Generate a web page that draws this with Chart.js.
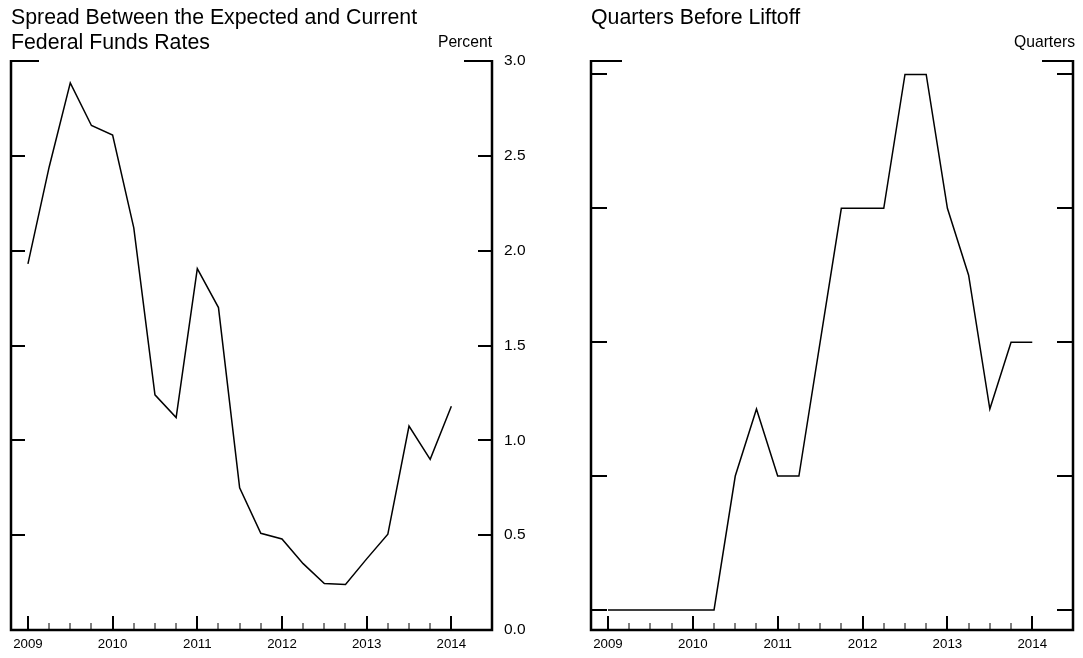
<!DOCTYPE html>
<html>
<head>
<meta charset="utf-8">
<script src="https://cdn.jsdelivr.net/npm/chart.js@4.4.1/dist/chart.umd.min.js"></script>
<style>
  html, body { margin: 0; padding: 0; background: #fff; }
  #wrap { position: relative; width: 1083px; height: 658px; }
  canvas { position: absolute; top: 0; }
  #spread { left: 0; }
  #liftoff { left: 540px; }
</style>
</head>
<body>
<div id="wrap">
  <canvas id="spread" width="540" height="658"></canvas>
  <canvas id="liftoff" width="543" height="658"></canvas>
</div>
<script>
// quarterly observations, 2009:Q1 - 2014:Q1
const dates = [2009, 2009.25, 2009.5, 2009.75, 2010, 2010.25, 2010.5, 2010.75,
               2011, 2011.25, 2011.5, 2011.75, 2012, 2012.25, 2012.5, 2012.75,
               2013, 2013.25, 2013.5, 2013.75, 2014];
// spread between expected and current fed funds rate, percent
const spread = [1.93, 2.44, 2.885, 2.66, 2.61, 2.12, 1.24, 1.12,
                1.905, 1.70, 0.75, 0.51, 0.48, 0.35, 0.245, 0.24,
                0.375, 0.505, 1.075, 0.90, 1.18];
// quarters before liftoff
const liftoff = [2, 2, 2, 2, 2, 2, 4, 5,
                 4, 4, 6, 8, 8, 8, 10, 10,
                 8, 7, 5, 6, 6];

const yearTicks = [2009, 2010, 2011, 2012, 2013, 2014];
const percentTicks = [0, 0.5, 1, 1.5, 2, 2.5, 3];
const quarterTicks = [2, 4, 6, 8, 10];

const FONT = "'Liberation Sans', Arial, sans-serif";
Chart.defaults.font.family = FONT;
Chart.defaults.color = '#000';

// quarter tick marks between the first and last year
const xMarks = [];
for (let q = yearTicks[0]; q <= yearTicks[yearTicks.length - 1]; q += 0.25) xMarks.push(q);

// frame with inward ticks, like the original Fed charts
const frame = {
  id: 'frame',
  afterDatasetsDraw(chart, args, opts) {
    const { ctx, chartArea: a } = chart;
    const x = chart.scales.x, y = chart.scales.y;
    ctx.save();
    ctx.strokeStyle = '#000';

    ctx.lineWidth = 2;
    ctx.beginPath();
    y.ticks.forEach(t => {
      const py = Math.round(y.getPixelForValue(t.value));
      if (py <= a.top + 2 || py >= a.bottom - 2) return;
      ctx.moveTo(a.left, py); ctx.lineTo(a.left + opts.tick, py);
      ctx.moveTo(a.right, py); ctx.lineTo(a.right - opts.tick, py);
    });
    ctx.moveTo(a.left, a.top); ctx.lineTo(a.left + opts.corner, a.top);
    ctx.moveTo(a.right, a.top); ctx.lineTo(a.right - opts.corner, a.top);
    ctx.stroke();

    x.ticks.forEach(t => {
      const px = Math.round(x.getPixelForValue(t.value));
      const major = Number.isInteger(t.value);
      ctx.lineWidth = major ? 2 : 1;
      ctx.beginPath();
      ctx.moveTo(px, a.bottom);
      ctx.lineTo(px, a.bottom - (major ? 14 : 7));
      ctx.stroke();
    });

    ctx.lineWidth = 2.5;
    ctx.beginPath();
    ctx.moveTo(a.left, a.top - 1);
    ctx.lineTo(a.left, a.bottom);
    ctx.lineTo(a.right, a.bottom);
    ctx.lineTo(a.right, a.top - 1);
    ctx.stroke();

    ctx.fillStyle = '#000';
    ctx.font = '15.7px ' + FONT;
    ctx.textAlign = 'right';
    ctx.textBaseline = 'middle';
    ctx.fillText(opts.unit, a.right + opts.shift, a.top - 18);
    ctx.restore();
  }
};

function xScale() {
  return {
    type: 'linear',
    min: 2008.8,
    max: 2014.48,
    afterBuildTicks: s => { s.ticks = xMarks.map(v => ({ value: v })); },
    afterFit: s => { s.height = 28; },
    grid: { display: false, drawTicks: false },
    border: { display: false },
    ticks: {
      autoSkip: false, maxRotation: 0, padding: 6,
      font: { size: 13.3 }, color: '#000',
      callback: v => yearTicks.includes(v) ? String(v) : ''
    }
  };
}

function series(values) {
  return dates.map((d, i) => ({ x: d, y: values[i] }));
}

const titleFont = { size: 21.3, weight: 'normal', lineHeight: '25px' };

new Chart(document.getElementById('spread'), {
  type: 'line',
  data: {
    datasets: [{
      data: series(spread),
      borderColor: '#000', borderWidth: 1.5,
      pointRadius: 0, tension: 0
    }]
  },
  options: {
    responsive: false, animation: false, devicePixelRatio: 1,
    layout: { padding: { left: 11 } },
    plugins: {
      legend: { display: false },
      tooltip: { enabled: false },
      title: {
        display: true, align: 'start', color: '#000',
        text: ['Spread Between the Expected and Current', 'Federal Funds Rates'],
        font: titleFont,
        padding: { top: 6, bottom: 5 }
      },
      frame: { tick: 14, corner: 28, unit: 'Percent', shift: 0 }
    },
    scales: {
      x: xScale(),
      y: {
        position: 'right', min: 0, max: 3,
        afterBuildTicks: s => { s.ticks = percentTicks.map(v => ({ value: v })); },
        afterFit: s => { s.width = 48; },
        grid: { display: false, drawTicks: false },
        border: { display: false },
        ticks: { padding: 12, font: { size: 15.5 }, color: '#000', callback: v => v.toFixed(1) }
      }
    }
  },
  plugins: [frame]
});

new Chart(document.getElementById('liftoff'), {
  type: 'line',
  data: {
    datasets: [{
      data: series(liftoff),
      borderColor: '#000', borderWidth: 1.5,
      pointRadius: 0, tension: 0
    }]
  },
  options: {
    responsive: false, animation: false, devicePixelRatio: 1,
    layout: { padding: { left: 51 } },
    plugins: {
      legend: { display: false },
      tooltip: { enabled: false },
      title: {
        display: true, align: 'start', color: '#000',
        text: 'Quarters Before Liftoff',
        font: titleFont,
        padding: { top: 6, bottom: 30 }
      },
      frame: { tick: 16, corner: 31, unit: 'Quarters', shift: 2 }
    },
    scales: {
      x: xScale(),
      y: {
        position: 'right', min: 1.7, max: 10.2,
        afterBuildTicks: s => { s.ticks = quarterTicks.map(v => ({ value: v })); },
        afterFit: s => { s.width = 10; },
        grid: { display: false, drawTicks: false },
        border: { display: false },
        ticks: { display: false }
      }
    }
  },
  plugins: [frame]
});
</script>
</body>
</html>
